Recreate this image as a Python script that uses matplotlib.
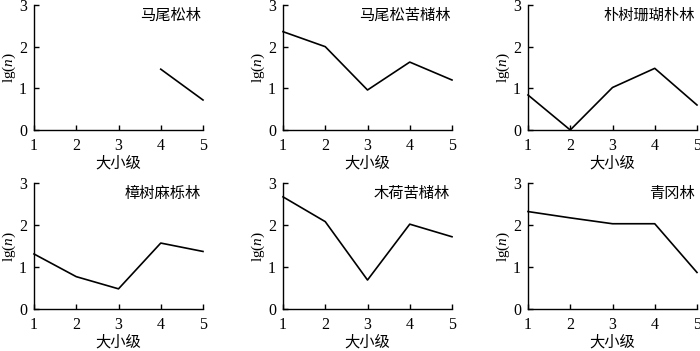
import numpy as np
import matplotlib.pyplot as plt

plt.rcParams['font.family'] = ['Liberation Serif', 'Noto Sans CJK SC']
plt.rcParams['mathtext.fontset'] = 'custom'
plt.rcParams['mathtext.it'] = 'Liberation Serif:italic'
plt.rcParams['mathtext.rm'] = 'Liberation Serif'

# size classes
classes = [1, 2, 3, 4, 5]

# lg(n) per forest type, None where no individuals
mawei = [None, None, None, 1.46, 0.72]
mawei_kuzhu = [2.36, 2.00, 0.96, 1.63, 1.20]
pushu_shanhu = [0.84, 0.0, 1.02, 1.48, 0.60]
zhangshu_mali = [1.31, 0.77, 0.48, 1.57, 1.37]
muhe_kuzhu = [2.67, 2.08, 0.69, 2.02, 1.72]
qinggang = [2.32, 2.17, 2.03, 2.03, 0.87]

titles = ['马尾松林', '马尾松苦槠林', '朴树珊瑚朴林', '樟树麻栎林', '木荷苦槠林', '青冈林']
series = [mawei, mawei_kuzhu, pushu_shanhu, zhangshu_mali, muhe_kuzhu, qinggang]

W, H = 700, 351
fig = plt.figure(figsize=(7, 3.51), dpi=100)

lefts = [34, 283, 528]
rows = [(5, 130), (183, 309)]  # (top, bottom) in pixels
width = 169

for i, (title, vals) in enumerate(zip(titles, series)):
    r, c = divmod(i, 3)
    top, bot = rows[r]
    ax = fig.add_axes([lefts[c] / W, 1 - bot / H, width / W, (bot - top) / H])
    x = [k for k, v in zip(classes, vals) if v is not None]
    y = [v for v in vals if v is not None]
    ax.plot(x, y, color='black', lw=1.2, clip_on=False)
    ax.set_xlim(1, 5)
    ax.set_ylim(0, 3)
    ax.set_xticks(classes)
    ax.set_yticks([0, 1, 2, 3])
    for s in ['top', 'right']:
        ax.spines[s].set_visible(False)
    for s in ['left', 'bottom']:
        ax.spines[s].set_linewidth(1.0)
    ax.tick_params(direction='in', length=3.5, width=1.0, labelsize=11.5)
    ax.tick_params(axis='x', pad=6)
    ax.tick_params(axis='y', pad=5)
    ax.set_xlabel('大小级', fontsize=11, family=['Noto Sans CJK SC'], labelpad=0)
    ax.set_ylabel('lg($n$)', fontsize=11, labelpad=1)
    ax.text(0.99, 0.92, title, transform=ax.transAxes, ha='right', va='center',
            fontsize=11, family=['Noto Sans CJK SC'])

fig.savefig('out.png', dpi=100)
